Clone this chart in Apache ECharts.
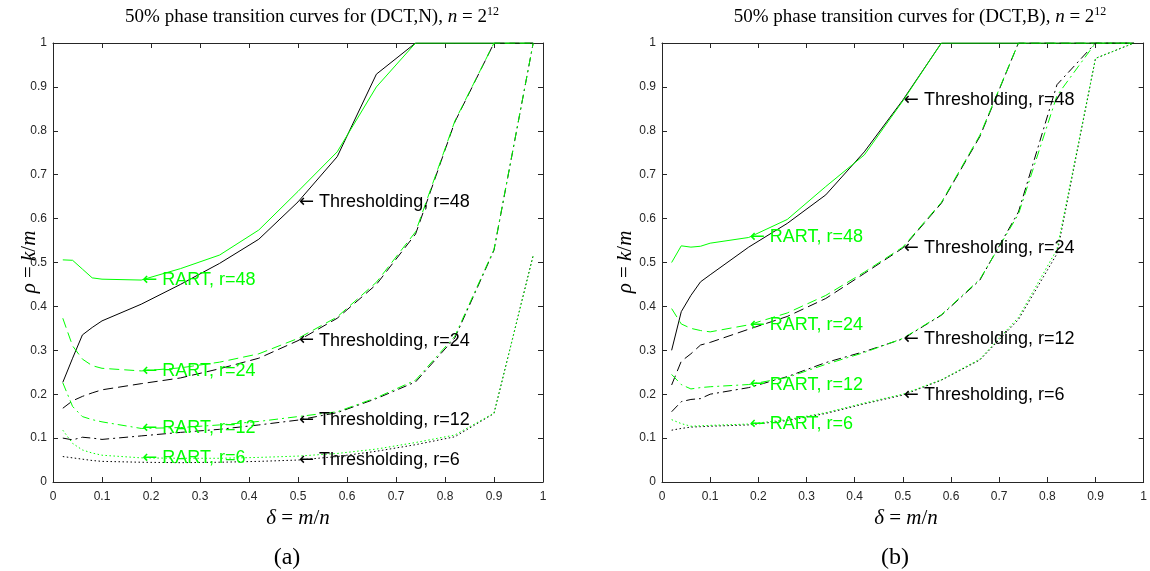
<!DOCTYPE html>
<html>
<head>
<meta charset="utf-8">
<script src="https://cdn.jsdelivr.net/npm/echarts@6/dist/echarts.min.js"></script>
<style>
  html, body { margin: 0; padding: 0; background: #fff; }
  #main { width: 1150px; height: 571px; }
</style>
</head>
<body>
<div id="main"></div>
<script>
// sampling grid of delta = m/n
const delta = [0.02, 0.04, 0.06, 0.08, 0.1, 0.18, 0.26, 0.34, 0.42, 0.5, 0.58, 0.66, 0.74, 0.82, 0.9, 0.98];

// (a) DCT,N
const aThr48  = [0.227, 0.282, 0.335, 0.352, 0.367, 0.405, 0.450, 0.498, 0.553, 0.638, 0.741, 0.929, 1, 1, 1, 1];
const aRart48 = [0.506, 0.505, 0.485, 0.465, 0.462, 0.460, 0.486, 0.517, 0.574, 0.662, 0.752, 0.900, 1, 1, 1, 1];
const aThr24  = [0.168, 0.185, 0.195, 0.203, 0.210, 0.224, 0.237, 0.258, 0.282, 0.322, 0.373, 0.450, 0.565, 0.820, 1, 1];
const aRart24 = [0.373, 0.310, 0.280, 0.265, 0.259, 0.253, 0.260, 0.273, 0.292, 0.327, 0.376, 0.455, 0.570, 0.822, 1, 1];
const aThr12  = [0.100, 0.096, 0.102, 0.100, 0.097, 0.105, 0.113, 0.120, 0.130, 0.141, 0.158, 0.190, 0.228, 0.328, 0.528, 1];
const aRart12 = [0.226, 0.172, 0.149, 0.142, 0.137, 0.122, 0.124, 0.130, 0.138, 0.149, 0.160, 0.192, 0.232, 0.332, 0.530, 1];
const aThr6   = [0.058, 0.055, 0.052, 0.049, 0.047, 0.045, 0.044, 0.045, 0.047, 0.050, 0.058, 0.070, 0.085, 0.103, 0.156, 0.517];
const aRart6  = [0.118, 0.088, 0.073, 0.066, 0.061, 0.055, 0.054, 0.054, 0.056, 0.059, 0.065, 0.075, 0.090, 0.107, 0.157, 0.515];

// (b) DCT,B
const bThr48  = [0.300, 0.388, 0.425, 0.456, 0.472, 0.535, 0.589, 0.654, 0.752, 0.870, 1, 1, 1, 1, 1, 1];
const bRart48 = [0.500, 0.538, 0.535, 0.537, 0.544, 0.557, 0.598, 0.673, 0.745, 0.868, 1, 1, 1, 1, 1, 1];
const bThr24  = [0.221, 0.275, 0.292, 0.312, 0.318, 0.348, 0.377, 0.418, 0.475, 0.533, 0.635, 0.787, 1, 1, 1, 1];
const bRart24 = [0.395, 0.360, 0.350, 0.345, 0.342, 0.358, 0.385, 0.425, 0.478, 0.535, 0.637, 0.790, 1, 1, 1, 1];
const bThr12  = [0.160, 0.183, 0.188, 0.190, 0.200, 0.215, 0.240, 0.272, 0.297, 0.326, 0.380, 0.460, 0.615, 0.905, 1, 1];
const bRart12 = [0.245, 0.222, 0.212, 0.215, 0.217, 0.222, 0.238, 0.268, 0.295, 0.327, 0.381, 0.462, 0.610, 0.880, 1, 1];
const bThr6   = [0.118, 0.122, 0.125, 0.126, 0.127, 0.130, 0.140, 0.156, 0.178, 0.198, 0.232, 0.278, 0.370, 0.520, 0.965, 1];
const bRart6  = [0.142, 0.133, 0.127, 0.128, 0.129, 0.132, 0.142, 0.158, 0.180, 0.200, 0.233, 0.280, 0.375, 0.530, 0.965, 1];

const tickLabels = ['0', '0.1', '0.2', '0.3', '0.4', '0.5', '0.6', '0.7', '0.8', '0.9', '1'];

const BLACK = '#000000';
const GREEN = '#00ff00';
const AXIS = '#262626';
const dash = {
  solid: 'solid',
  dashed: [10, 5],
  dashdot: [9, 4, 2, 4],
  dotted: [1.5, 2.5]
};
const THR_AT = 9;   // delta = 0.5
const RART_AT = 5;  // delta = 0.18

function line(name, vals, color, style, panel, lblIdx, lblText) {
  return {
    name: name,
    type: 'line',
    xAxisIndex: panel * 2,
    yAxisIndex: panel * 2,
    data: delta.map((d, i) => [d, vals[i]]),
    symbol: 'none',
    silent: true,
    lineStyle: { color: color, width: 1, type: style },
    markPoint: {
      symbol: 'circle',
      symbolSize: 0,
      silent: true,
      data: [{ coord: [delta[lblIdx], vals[lblIdx]] }],
      label: {
        show: true,
        position: 'right',
        distance: 1,
        formatter: '{a|\u2190}{t| ' + lblText + '}',
        rich: {
          a: { fontFamily: 'DejaVu Sans', fontSize: 18, color: color },
          t: { fontFamily: 'Liberation Sans', fontSize: 18, color: color }
        }
      }
    }
  };
}

function axesFor(panel) {
  const common = {
    gridIndex: panel, type: 'value', min: 0, max: 1, interval: 0.1,
    splitLine: { show: false },
    axisLine: { show: true, onZero: false, lineStyle: { color: AXIS, width: 1 } },
    axisTick: { show: true, inside: true, length: 5, lineStyle: { color: AXIS } }
  };
  const lbl = {
    show: true, color: AXIS, fontFamily: 'Liberation Sans', fontSize: 12,
    formatter: v => tickLabels[Math.round(v * 10)]
  };
  return {
    x: [
      Object.assign({}, common, { position: 'bottom', axisLabel: Object.assign({ margin: 9 }, lbl) }),
      Object.assign({}, common, { position: 'top', axisLabel: { show: false } })
    ],
    y: [
      Object.assign({}, common, { position: 'left', axisLabel: Object.assign({ margin: 6 }, lbl) }),
      Object.assign({}, common, { position: 'right', axisLabel: { show: false } })
    ]
  };
}

const ax0 = axesFor(0), ax1 = axesFor(1);

const serifRich = {
  t: { fontFamily: 'Liberation Serif', fontSize: 19, color: '#000' },
  i: { fontFamily: 'Liberation Serif', fontStyle: 'italic', fontSize: 19, color: '#000' },
  s: { fontFamily: 'Liberation Serif', fontSize: 12, color: '#000', padding: [0, 0, 10, 0] }
};
const labRich = {
  t: { fontFamily: 'Liberation Serif', fontSize: 21, color: '#000' },
  i: { fontFamily: 'Liberation Serif', fontStyle: 'italic', fontSize: 21, color: '#000' }
};

function txt(x, y, text, rich, rot) {
  return {
    type: 'text', x: x, y: y, rotation: rot || 0, silent: true,
    style: { text: text, rich: rich, align: 'center', verticalAlign: 'middle' }
  };
}

const option = {
  animation: false,
  backgroundColor: '#ffffff',
  grid: [
    { left: 53, top: 43, width: 490, height: 439 },
    { left: 662, top: 43, width: 489, height: 439 }
  ],
  xAxis: [ax0.x[0], ax0.x[1], ax1.x[0], ax1.x[1]],
  yAxis: [ax0.y[0], ax0.y[1], ax1.y[0], ax1.y[1]],
  series: [
    line('aThr48', aThr48, BLACK, dash.solid, 0, THR_AT, 'Thresholding, r=48'),
    line('aRart48', aRart48, GREEN, dash.solid, 0, RART_AT, 'RART, r=48'),
    line('aThr24', aThr24, BLACK, dash.dashed, 0, THR_AT, 'Thresholding, r=24'),
    line('aRart24', aRart24, GREEN, dash.dashed, 0, RART_AT, 'RART, r=24'),
    line('aThr12', aThr12, BLACK, dash.dashdot, 0, THR_AT, 'Thresholding, r=12'),
    line('aRart12', aRart12, GREEN, dash.dashdot, 0, RART_AT, 'RART, r=12'),
    line('aThr6', aThr6, BLACK, dash.dotted, 0, THR_AT, 'Thresholding, r=6'),
    line('aRart6', aRart6, GREEN, dash.dotted, 0, RART_AT, 'RART, r=6'),
    line('bThr48', bThr48, BLACK, dash.solid, 1, THR_AT, 'Thresholding, r=48'),
    line('bRart48', bRart48, GREEN, dash.solid, 1, RART_AT, 'RART, r=48'),
    line('bThr24', bThr24, BLACK, dash.dashed, 1, THR_AT, 'Thresholding, r=24'),
    line('bRart24', bRart24, GREEN, dash.dashed, 1, RART_AT, 'RART, r=24'),
    line('bThr12', bThr12, BLACK, dash.dashdot, 1, THR_AT, 'Thresholding, r=12'),
    line('bRart12', bRart12, GREEN, dash.dashdot, 1, RART_AT, 'RART, r=12'),
    line('bThr6', bThr6, BLACK, dash.dotted, 1, THR_AT, 'Thresholding, r=6'),
    line('bRart6', bRart6, GREEN, dash.dotted, 1, RART_AT, 'RART, r=6')
  ],
  graphic: [
    txt(312, 17, '{t|50% phase transition curves for (DCT,N), }{i|n}{t| = 2}{s|12}', serifRich),
    txt(920, 17, '{t|50% phase transition curves for (DCT,B), }{i|n}{t| = 2}{s|12}', serifRich),
    txt(298, 518, '{i|\u03b4}{t| = }{i|m}{t|/}{i|n}', labRich),
    txt(906, 518, '{i|\u03b4}{t| = }{i|m}{t|/}{i|n}', labRich),
    txt(29, 262, '{i|\u03c1}{t| = }{i|k}{t|/}{i|m}', labRich, Math.PI / 2),
    txt(625, 262, '{i|\u03c1}{t| = }{i|k}{t|/}{i|m}', labRich, Math.PI / 2),
    txt(287, 558, '{t|(a)}', { t: { fontFamily: 'Liberation Serif', fontSize: 24, color: '#000' } }),
    txt(895, 558, '{t|(b)}', { t: { fontFamily: 'Liberation Serif', fontSize: 24, color: '#000' } })
  ]
};

const myChart = echarts.init(document.getElementById('main'));
myChart.setOption(option);
window.addEventListener('resize', function () {
  myChart.resize();
});
</script>
</body>
</html>
